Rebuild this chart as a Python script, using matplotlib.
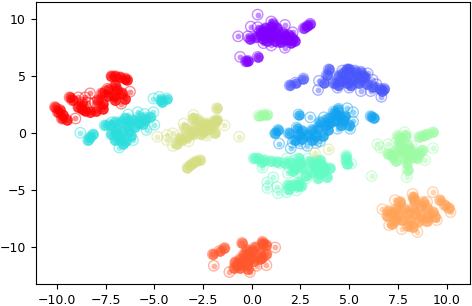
import numpy as np
import matplotlib
matplotlib.use("Agg")
import matplotlib.pyplot as plt

# t-SNE style embedding, one cluster per class
# "open" = single visible points, "dense" = spots where points pile up solid
class0_open = [(0.3,10.4),(-0.7,8.5),(-0.05,9.35),(0.3,9.3),(1.0,9.8),(1.7,9.5),(2.1,8.85),(1.7,7.5),
               (1.0,7.7),(0.6,7.9),(1.35,8.0),(-0.2,8.5),(-0.6,6.7),(2.0,8.4)]
class0_dense = [(0.2,8.4),(0.5,8.6),(0.8,8.8),(1.0,9.0),(1.2,8.8),(1.0,8.4),(1.4,8.4),(1.7,8.5),(1.9,8.2),
                (2.2,8.1),(0.7,9.2),(1.0,9.3),(1.3,9.2),(0.8,8.1),(1.5,8.0),(1.9,8.6),(2.67,9.2),(2.85,9.4),
                (3.0,9.6),(-0.3,6.3),(-0.2,6.35),(0.3,6.7),(0.4,8.9),(0.6,8.3),(1.2,8.1),(1.6,8.8),(1.1,9.6),
                (0.9,8.6),(1.7,8.2),(2.1,8.3),(2.0,7.95),(-0.1,8.3),(0.5,9.0)]

class1_open = [(3.4,3.8),(3.45,4.6),(6.1,3.7),(6.65,3.2),(5.6,3.7),(6.2,4.7),(4.65,5.5),(5.95,5.25),(4.4,4.0),
               (5.0,4.0),(6.4,4.3)]
class1_dense = [(1.95,4.2),(2.25,4.45),(2.65,4.8),(3.95,5.6),(3.85,5.1),(3.7,4.45),(4.9,5.6),(5.6,5.4),
                (5.2,4.65),(5.5,4.4),(4.8,4.8),(4.45,4.2),(6.8,3.9),(6.7,3.7),(5.0,5.2),(5.4,5.0),(5.8,4.9),(4.7,5.3),
                (4.6,4.6),(4.9,4.4),(5.1,4.2),(5.6,4.8),(5.3,5.5),(4.4,5.0),(4.2,4.4),(5.9,4.3),(6.2,4.1),(6.6,3.9),
                (5.0,5.6),(5.7,5.0)]

class2_open = [(3.0,1.4),(1.4,-0.9),(2.0,-1.3),(2.1,-0.8),(2.85,-1.1),(3.3,-0.85),(2.5,-0.9),(5.2,1.85),(4.9,2.2),
               (5.2,1.05),(5.05,0.4),(3.7,1.4),(4.4,0.4),(3.5,-0.7)]
class2_dense = [(2.4,1.65),(4.45,2.15),(6.1,1.5),(6.25,1.35),(1.2,0.0),(1.35,0.3),(2.3,0.5),(2.4,-0.15),(2.9,-0.15),
                (3.4,0.5),(3.65,-0.2),(3.95,1.3),(3.8,0.7),(4.7,1.15),(5.0,0.7),(4.3,1.6),(1.9,0.0),(2.6,0.2),(2.6,-0.5),
                (3.1,0.3),(3.3,-0.2),(3.5,1.0),(4.0,0.9),(4.3,1.1),(4.5,1.5),(4.6,0.7),(3.9,0.3),(4.2,1.9),(4.8,1.5),
                (2.2,-0.6),(3.1,-0.6)]

class3_open = [(-8.8,0.05),(-5.05,1.85),(-5.0,0.75),(-5.4,0.3),(-5.85,1.85),(-6.35,1.65),(-6.8,-1.25),(-6.1,-0.6),
               (-5.05,3.05),(-4.75,3.2),(-7.2,0.95),(-5.5,1.7)]
class3_dense = [(-4.65,2.95),(-4.35,3.05),(-4.6,2.75),(-7.55,0.7),(-8.4,-0.6),(-8.15,-0.1),(-6.95,0),(-7.0,-0.6),
                (-6.75,-0.6),(-6.95,0.4),(-6.5,1.3),(-6.1,1.15),(-5.75,1.45),(-6.0,0.55),(-6.65,0.1),(-6.4,0.65),
                (-5.5,1.2),(-6.45,-0.65),(-6.8,-0.3),(-6.6,-0.9),(-7.2,-0.1),(-6.3,0.2),(-5.8,0.9),(-6.3,1.0),(-5.6,0.8),
                (-6.7,1.0),(-7.0,1.0),(-7.3,0.75),(-8.3,-0.35),(-5.2,1.4),(-6.2,-0.2)]

class4_open = [(0.55,-3.0),(1.45,-2.6),(1.8,-2.2),(2.2,-2.35),(1.95,-3.0),(2.3,-3.4),(1.85,-3.5),(1.1,-3.85),(0.8,-4.3),
               (0.8,-4.8),(1.3,-4.7),(1.35,-5.25),(1.8,-5.15),(2.3,-5.0),(2.8,-3.95),(2.9,-2.2),(2.7,-2.8),(5.1,-2.65)]
class4_dense = [(0.3,-2.2),(0.65,-2.35),(1.0,-2.45),(0.1,-2.2),(1.85,-4.55),(2.1,-4.55),(2.35,-4.6),(2.55,-4.6),
                (3.5,-2.35),(3.2,-2.8),(3.75,-3.05),(4.0,-3.05),(3.5,-3.5),(3.4,-3.95),(3.85,-3.85),(3.1,-3.4),
                (4.85,-1.95),(4.85,-2.35),(4.9,-2.65),(2.1,-3.3),(2.0,-2.6),(2.5,-2.6),(1.7,-2.6),(2.2,-3.0),(2.4,-2.2),
                (3.0,-2.5),(3.3,-2.4),(3.7,-3.3),(3.3,-3.2),(3.6,-2.8),(1.9,-4.9),(2.4,-4.3),(2.8,-3.7),(0.5,-2.5),
                (1.3,-2.5),(2.6,-3.0)]

class5_open = [(6.15,-3.75),(6.45,-0.95),(6.6,-1.25),(7.0,-0.95),(7.85,0.1),(7.4,-0.8),(9.3,-1.3),(8.9,-2.35),(7.95,-3.85),
               (8.2,-1.1)]
class5_dense = [(0.35,1.55),(0.6,1.6),(0.8,1.65),(9.3,0.1),(9.0,-0.1),(8.6,-0.3),(8.8,-0.2),(7.7,-0.45),(7.85,-1.5),
                (8.05,-1.5),(7.7,-1.65),(7.25,-2.1),(7.95,-2.6),(8.0,-3.2),(8.75,-1.5),(8.5,-2.2),(7.5,-0.2),(7.4,-2.4),
                (8.0,-1.1),(7.6,-1.1),(7.4,-1.6),(7.2,-1.8),(8.3,-1.6),(8.6,-1.8),(7.9,-2.2),(7.6,-0.8),(7.9,-0.2),
                (8.3,-2.1),(8.0,-1.8),(7.0,-1.8)]

class6_open = [(-4.85,-0.3),(-4.35,-0.15),(-4.05,0),(-1.4,0.7),(-0.65,-0.3),(-3.0,1.6),(-3.25,-0.7),(-4.05,-1.1),
               (-4.35,-0.6),(3.25,-1.75),(3.95,-1.4),(-2.3,-0.2),(-3.5,0.85)]
class6_dense = [(-2.65,-2.35),(-3.0,-2.6),(-3.3,-3.0),(-2.85,-2.45),(-3.15,-2.8),(-1.8,2.2),(-1.8,1.2),(-2.0,1.0),(-2.75,1.2),
                (-2.65,0.45),(-2.45,0.2),(-1.9,0.05),(-2.2,0.35),(-3.45,0.45),(-3.7,-0.45),(-3.85,-0.9),(-3.6,-0.6),(-3.3,-0.3),
                (-3.1,0.1),(-2.9,0.6),(-2.4,0.7),(-2.0,0.6),(-3.0,-0.1),(-2.6,-0.1),(-2.4,0.9),(-1.85,1.1),(-3.0,1.3)]

class7_open = [(6.7,-6.65),(9.3,-5.15),(8.25,-5.3),(10.2,-6.9),(8.5,-8.65),(7.05,-8.05),(9.5,-7.6),(7.7,-8.4),(7.35,-5.85),
               (9.0,-6.0),(7.6,-6.1)]
class7_dense = [(9.65,-5.85),(9.9,-6.3),(10.1,-6.55),(8.35,-5.85),(8.3,-6.5),(7.25,-7.0),(6.95,-7.2),(7.5,-7.2),(8.1,-7.6),
                (8.25,-8.2),(9.0,-6.55),(9.05,-7.3),(8.7,-7.2),(7.35,-7.6),(7.6,-6.0),(7.0,-6.8),(7.4,-6.6),(7.8,-6.6),
                (8.0,-7.0),(7.7,-7.6),(8.4,-7.0),(8.7,-6.4),(9.3,-6.9),(9.4,-7.3),(8.6,-7.7),(8.3,-5.6),(8.8,-6.0),
                (7.2,-7.9),(8.0,-8.1),(9.0,-7.7)]

class8_open = [(-1.95,-11.6),(-1.15,-12.15),(1.2,-10),(0.75,-11.55),(0.25,-11.6),(-0.1,-12.15)]
class8_dense = [(-2.0,-10.6),(-1.65,-10.3),(-1.4,-10.05),(-0.85,-11.3),(-0.9,-11.8),(-0.5,-9.6),(-0.25,-10.2),(-0.1,-10.65),
                (-0.25,-11.55),(0.55,-9.5),(0.75,-9.8),(0.4,-11),(0.75,-10.6),(0.15,-10),(-0.6,-11),(-0.4,-10.6),(0.0,-10.3),
                (0.4,-10.5),(-0.5,-11.3),(0.1,-11.2),(0.5,-10.9),(-0.1,-11.0),(-0.7,-11.5),(0.6,-9.7),(-0.6,-11.8),(-0.2,-11.9)]

class9_open = [(-9.05,1.3),(-8.9,3.15),(-8.55,3.15),(-8.3,3.5),(-8.4,2.7),(-8.05,2.7),(-6.25,3.65),(-6.7,2.6),(-7.5,3.65)]
class9_dense = [(-10.1,2.3),(-9.95,1.85),(-9.75,1.3),(-9.5,1.2),(-9.35,3.15),(-8.9,2.3),(-8.55,2.0),(-8.3,1.85),(-7.7,3.5),
                (-7.65,2.6),(-7.65,2.15),(-7.2,5.0),(-6.75,4.9),(-6.4,4.7),(-7.05,3.3),(-6.65,3.5),(-7.0,4.2),(-9.85,2.05),
                (-9.7,1.6),(-9.2,2.9),(-8.7,2.15),(-8.0,1.95),(-7.9,2.9),(-7.4,3.3),(-7.0,2.9),(-6.5,3.0),(-6.9,3.8),
                (-7.4,3.9),(-7.0,5.0),(-6.5,4.8),(-8.7,2.7)]

open_points = [class0_open, class1_open, class2_open, class3_open, class4_open,
               class5_open, class6_open, class7_open, class8_open, class9_open]
dense_points = [class0_dense, class1_dense, class2_dense, class3_dense, class4_dense,
                class5_dense, class6_dense, class7_dense, class8_dense, class9_dense]

colors = plt.cm.rainbow(np.linspace(0, 1, len(open_points)))

fig = plt.figure(figsize=(4.72, 3.06), dpi=100)
ax = fig.add_axes([35.5 / 472, 1 - 284 / 306, (470 - 35.5) / 472, (284 - 1.5) / 306])

for pts, solid, col in zip(open_points, dense_points, colors):
    both = np.array(pts + solid)
    solid = np.array(solid)
    # outer ring and centre dot for every point
    ax.scatter(both[:, 0], both[:, 1], s=56, facecolors="none", edgecolors=[col], linewidths=1.0, alpha=0.45)
    ax.scatter(both[:, 0], both[:, 1], s=18, color=[col], linewidths=0, alpha=0.45)
    ax.scatter(solid[:, 0], solid[:, 1], s=56, color=[col], linewidths=0, alpha=0.75)

ax.set_xlim(-11.1, 11.2)
ax.set_ylim(-13.2, 11.55)
ax.set_xticks([-10, -7.5, -5, -2.5, 0, 2.5, 5, 7.5, 10])
ax.set_yticks([-10, -5, 0, 5, 10])
ax.tick_params(labelsize=9)

plt.savefig("out.png", dpi=100)
